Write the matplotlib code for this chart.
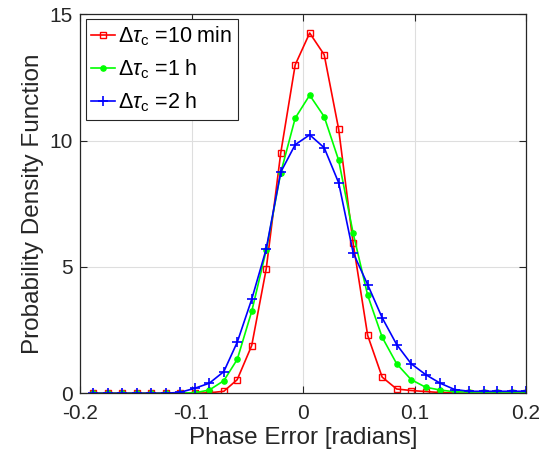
import numpy as np
import matplotlib
matplotlib.use("Agg")
from matplotlib import pyplot as plt

plt.rcParams['font.family'] = ['Liberation Sans', 'DejaVu Sans']
plt.rcParams['mathtext.fontset'] = 'custom'
plt.rcParams['mathtext.rm'] = 'Liberation Sans'
plt.rcParams['mathtext.it'] = 'Liberation Sans:italic'

# phase error bin centres (radians)
phase = [-0.188, -0.175, -0.162, -0.149, -0.136, -0.123, -0.110, -0.097,
         -0.084, -0.071, -0.059, -0.046, -0.033, -0.020, -0.007, 0.006,
         0.019, 0.032, 0.045, 0.058, 0.071, 0.084, 0.097, 0.110, 0.123,
         0.136, 0.149, 0.162, 0.174, 0.187, 0.200]

pdf_10min = [0, 0, 0, 0, 0, 0, 0, 0, 0.02, 0.08, 0.54, 1.89, 4.92, 9.5, 13.0,
             14.26, 13.4, 10.45, 5.93, 2.29, 0.64, 0.17, 0.11, 0.07, 0.03,
             0.01, 0, 0, 0, 0, 0]
pdf_1h = [0, 0, 0, 0, 0, 0, 0.01, 0.02, 0.13, 0.50, 1.34, 3.24, 5.66, 8.72,
          10.89, 11.8, 10.95, 9.22, 6.33, 3.88, 2.22, 1.17, 0.54, 0.24, 0.13,
          0.06, 0.05, 0.05, 0.05, 0.05, 0.05]
pdf_2h = [0, 0, 0, 0, 0, 0, 0.04, 0.20, 0.40, 0.86, 2.02, 3.72, 5.71, 8.75,
          9.84, 10.23, 9.72, 8.33, 5.56, 4.30, 2.99, 1.93, 1.17, 0.74, 0.40,
          0.15, 0.08, 0.08, 0.08, 0.08, 0.08]

labels = [r'$\Delta\tau_{\rm c}$ =10 min', r'$\Delta\tau_{\rm c}$ =1 h',
          r'$\Delta\tau_{\rm c}$ =2 h']

dark = (0.15, 0.15, 0.15)

fig = plt.figure(figsize=(5.47, 4.59), dpi=100)
ax = fig.add_axes([80 / 547, 1 - 393.3 / 459, 446 / 547, 379 / 459])

ax.plot(phase, pdf_10min, color=(1, 0, 0), lw=1.2, marker='s', ms=4.5,
        mfc='none', mew=1.0, label=labels[0])
ax.plot(phase, pdf_1h, color=(0, 1, 0), lw=1.2, marker='.', ms=7.5,
        label=labels[1])
ax.plot(phase, pdf_2h, color=(0, 0, 1), lw=1.2, marker='+', ms=7, mew=1.2,
        label=labels[2])

ax.set_xlim(-0.2, 0.2)
ax.set_ylim(0, 15)
ax.set_xticks([-0.2, -0.1, 0, 0.1, 0.2])
ax.set_xticklabels(['-0.2', '-0.1', '0', '0.1', '0.2'])
ax.set_yticks([0, 5, 10, 15])
ax.grid(True, color=(0.87, 0.87, 0.87), lw=0.8)
ax.set_axisbelow(True)
ax.tick_params(direction='in', top=True, right=True, labelsize=15,
               colors=dark, length=5, width=0.8)
ax.tick_params(axis='x', pad=7.5)
ax.tick_params(axis='y', pad=5)
for s in ax.spines.values():
    s.set_color(dark)
    s.set_linewidth(0.9)

ax.set_xlabel('Phase Error [radians]', fontsize=17.5, color=dark, labelpad=3)
ax.set_ylabel('Probability Density Function', fontsize=17.5, color=dark,
              labelpad=4)

leg = ax.legend(loc='upper left', bbox_to_anchor=(0.013, 0.988), fontsize=15.5,
                fancybox=False, framealpha=1, edgecolor=dark,
                handlelength=1.1, handletextpad=0.15, borderaxespad=0,
                borderpad=0.25, labelspacing=0.45)
leg.get_frame().set_linewidth(0.8)

fig.savefig('out.png', dpi=100)
